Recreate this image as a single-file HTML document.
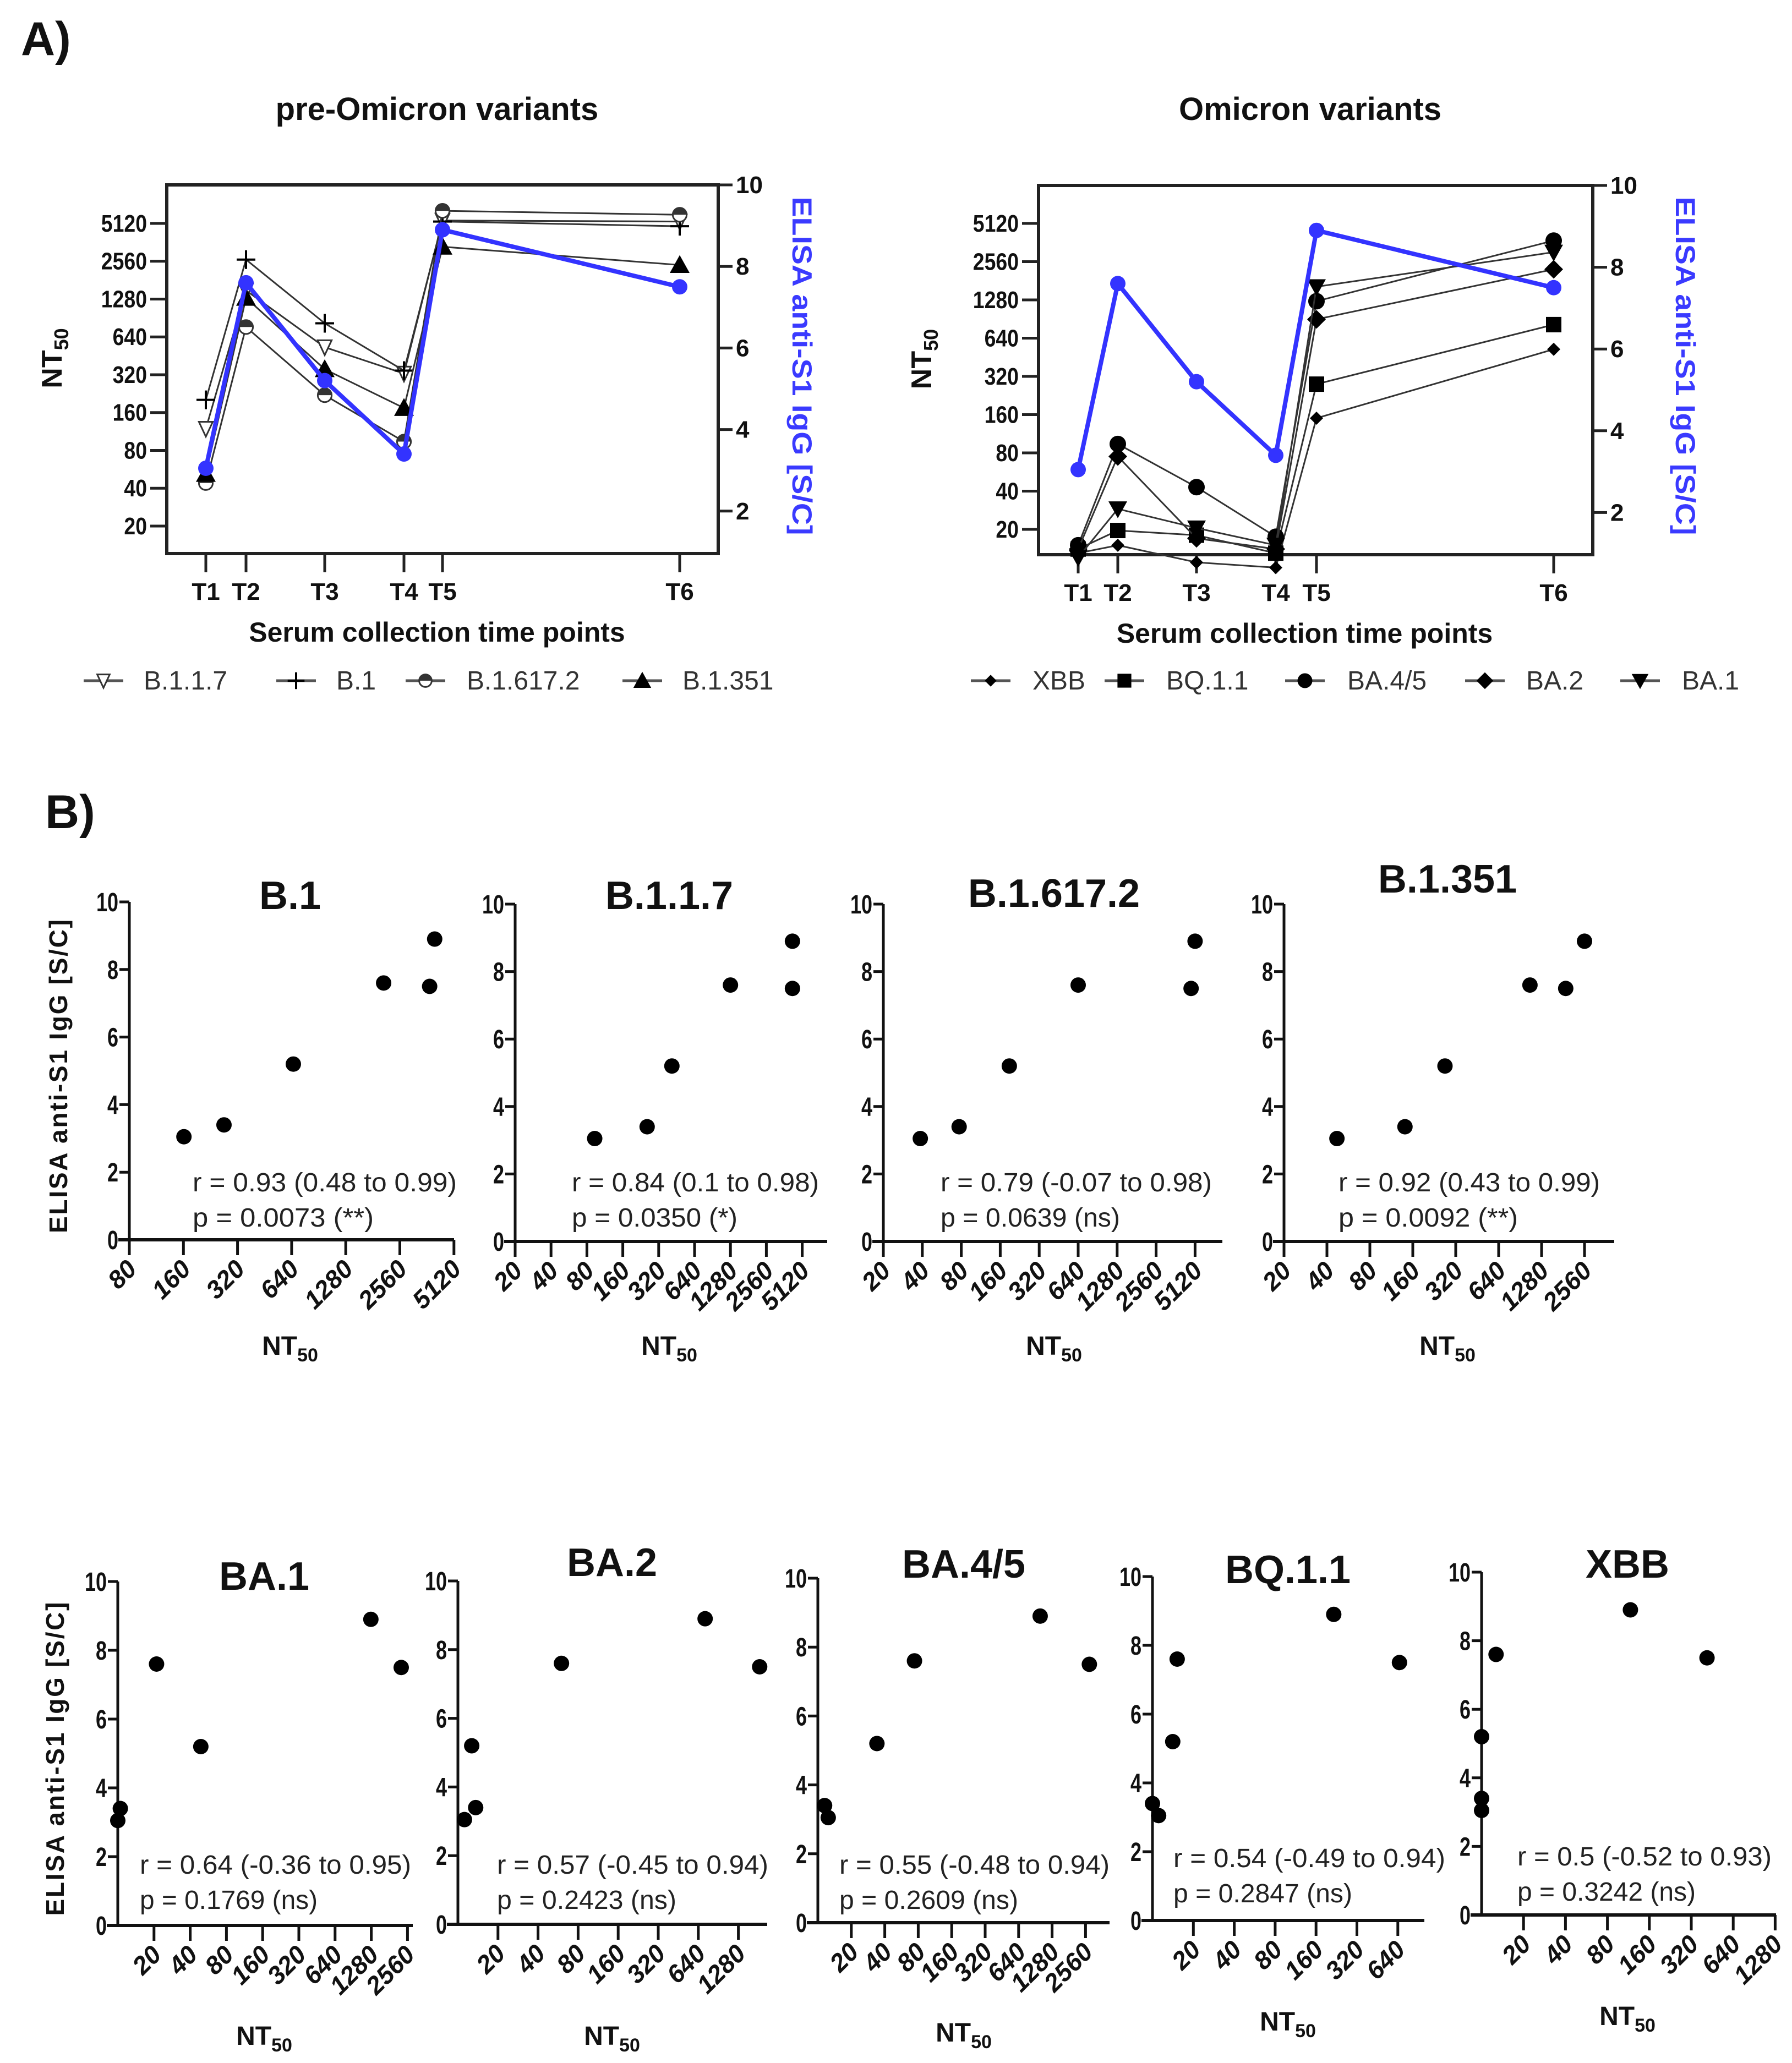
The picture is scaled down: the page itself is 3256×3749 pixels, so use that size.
<!DOCTYPE html>
<html><head><meta charset="utf-8"><style>
html,body{margin:0;padding:0;background:#fff;}
svg{display:block;font-family:"Liberation Sans",Arial,sans-serif;}
</style></head><body>
<svg id="fig" width="3256" height="3749" viewBox="0 0 3256 3749" xmlns="http://www.w3.org/2000/svg"></svg>
<script>
// ---------- DATA ----------
var timePoints = ["T1","T2","T3","T4","T5","T6"];
var elisaValues = [3.05, 7.6, 5.2, 3.4, 8.9, 7.5];
var nt50Ticks = [20,40,80,160,320,640,1280,2560,5120];
var elisaTicks = [2,4,6,8,10];
var preNames = ["B.1.1.7","B.1","B.1.617.2","B.1.351"];
var preB117 = [119,1500,530,327,5400,5300];
var preB1 = [202,2640,821,345,5300,4860];
var preB16172 = [44,767,220,94,6450,6000];
var preB1351 = [52,1310,354,174,3340,2390];
var omiNames = ["XBB","BQ.1.1","BA.4/5","BA.2","BA.1"];
var omiXBB = [13,15,11,10,150,523];
var omiBQ11 = [14,19.6,18,13,278,818];
var omiBA45 = [15,94,43,17.5,1250,3750];
var omiBA2 = [14,75,17,14,900,2230];
var omiBA1 = [12,29,20.5,15,1625,3040];
// scatter NT50 (T1..T6 order, paired with elisaValues)
var scB1 = [161,2080,654,269,4000,3750];
var scB117 = [93,1280,413,256,4240,4240];
var scB16172 = [38.6,640,188,77,5120,4770];
var scB1351 = [47,1061,269,141,2560,1890];
var scBA1 = [10,21,49,10.5,1270,2270];
var scBA2 = [11.2,60,12.7,13.6,720,1850];
var scBA45 = [12.4,74,34,11.5,1000,2770];
var scBQ11 = [11.1,15.2,14.1,10,216,658];
var scXBB = [10,12.7,10,10,117,415];
var scTicksB1 = [80,160,320,640,1280,2560,5120];
var scTicks5120 = [20,40,80,160,320,640,1280,2560,5120];
var scTicks2560 = [20,40,80,160,320,640,1280,2560];
var scTicks1280 = [20,40,80,160,320,640,1280];
var scTicks640 = [20,40,80,160,320,640];
var scYTicks = [0,2,4,6,8,10];
var statsR = ["r = 0.93 (0.48 to 0.99)","r = 0.84 (0.1 to 0.98)","r = 0.79 (-0.07 to 0.98)","r = 0.92 (0.43 to 0.99)","r = 0.64 (-0.36 to 0.95)","r = 0.57 (-0.45 to 0.94)","r = 0.55 (-0.48 to 0.94)","r = 0.54 (-0.49 to 0.94)","r = 0.5 (-0.52 to 0.93)"];
var statsP = ["p = 0.0073 (**)","p = 0.0350 (*)","p = 0.0639 (ns)","p = 0.0092 (**)","p = 0.1769 (ns)","p = 0.2423 (ns)","p = 0.2609 (ns)","p = 0.2847 (ns)","p = 0.3242 (ns)"];

// ---------- HELPERS ----------
var NS = "http://www.w3.org/2000/svg";
var svg = document.getElementById("fig");
function mk(tag, attrs, parent) {
  var e = document.createElementNS(NS, tag);
  for (var k in attrs) e.setAttribute(k, attrs[k]);
  (parent || svg).appendChild(e);
  return e;
}
function txt(s, attrs, parent) { var t = mk("text", attrs, parent); t.textContent = s; return t; }
function log2(v){ return Math.log(v)/Math.LN2; }

function marker(g, type, x, y, s) {
  var e;
  if (type === "tri-up") e = mk("polygon",{points:(x)+","+(y-s)+" "+(x-s)+","+(y+s*0.8)+" "+(x+s)+","+(y+s*0.8),fill:"#000"},g);
  else if (type === "tri-down") e = mk("polygon",{points:(x-s)+","+(y-s*0.8)+" "+(x+s)+","+(y-s*0.8)+" "+x+","+(y+s),fill:"#000"},g);
  else if (type === "tri-down-open") e = mk("polygon",{points:(x-s*0.7)+","+(y-s*0.7)+" "+(x+s*0.7)+","+(y-s*0.7)+" "+x+","+(y+s*0.8),fill:"#fff",stroke:"#333","stroke-width":3},g);
  else if (type === "plus") e = mk("path",{d:"M"+(x-s)+" "+y+"H"+(x+s)+"M"+x+" "+(y-s)+"V"+(y+s),stroke:"#000","stroke-width":4},g);
  else if (type === "circle-open") { e = mk("circle",{cx:x,cy:y,r:s*0.7,fill:"#fff",stroke:"#333","stroke-width":3},g); mk("path",{d:"M"+(x-s*0.7)+" "+y+"A"+s*0.7+" "+s*0.7+" 0 0 1 "+(x+s*0.7)+" "+y+"Z",fill:"#333"},g); }
  else if (type === "circle") e = mk("circle",{cx:x,cy:y,r:s,fill:"#000"},g);
  else if (type === "square") e = mk("rect",{x:x-s,y:y-s,width:2*s,height:2*s,fill:"#000"},g);
  else if (type === "diamond") e = mk("polygon",{points:x+","+(y-s)+" "+(x+s)+","+y+" "+x+","+(y+s)+" "+(x-s)+","+y,fill:"#000"},g);
  return e;
}

// ---------- PANEL LABELS ----------
var la = txt("A)",{x:38,y:100,"font-size":86,"font-weight":"bold",fill:"#111"});


var lb = txt("B)",{x:82,y:1505,"font-size":86,"font-weight":"bold",fill:"#111"});



// ---------- TIME COURSE CHARTS ----------
function timeChart(cfg) {
  var g = mk("g",{});
  
  
  var L=cfg.left,R=cfg.right,T=cfg.top,B=cfg.bottom;
  function yN(v){ return cfg.y5120 - log2(v/5120)*cfg.perDbl; }
  function yE(v){ return T + (10-v)*cfg.perUnit; }
  var tt = txt(cfg.title,{x:(L+R)/2+cfg.titleDx,y:218,"font-size":58,"font-weight":"bold","text-anchor":"middle",fill:"#111"},g);
  
  
  var fr = mk("rect",{x:L,y:T,width:R-L,height:B-T,fill:"none",stroke:"#222","stroke-width":6},g);
  
  
  nt50Ticks.forEach(function(v){
    var y=yN(v);
    var tk = mk("line",{x1:L-30,x2:L,y1:y,y2:y,stroke:"#222","stroke-width":5},g);
    
    
    var tl = txt(String(v),{x:L-36,y:y+15,"font-size":44,"font-weight":"bold","text-anchor":"end",fill:"#111",transform:"translate("+(L-36)+",0) scale(0.85,1) translate("+(-(L-36))+",0)"},g);
    
    
  });
  elisaTicks.forEach(function(v){
    var y=yE(v);
    var tk = mk("line",{x1:R,x2:R+26,y1:y,y2:y,stroke:"#222","stroke-width":5},g);
    
    
    var tl = txt(String(v),{x:R+32,y:y+15,"font-size":44,"font-weight":"bold",fill:"#111"},g);
    
    
  });
  timePoints.forEach(function(t,i){
    var x=cfg.xs[i];
    var tk = mk("line",{x1:x,x2:x,y1:B,y2:B+34,stroke:"#222","stroke-width":5},g);
    
    
    var tl = txt(t,{x:x,y:B+84,"font-size":44,"font-weight":"bold","text-anchor":"middle",fill:"#111"},g);
    
    
  });
  var xt = txt("Serum collection time points",{x:(L+R)/2+cfg.xtDx,y:B+160,"font-size":50,"font-weight":"bold","text-anchor":"middle",fill:"#111"},g);
  
  
  var yt = txt("",{x:0,y:0,"font-size":52,"font-weight":"bold","text-anchor":"middle",fill:"#111",transform:"translate("+cfg.ytX+","+((T+B)/2-20)+") rotate(-90)"},g);
  yt.innerHTML = 'NT<tspan font-size="36" dy="12">50</tspan>';
  
  
  var ry = txt("ELISA anti-S1 IgG [S/C]",{x:0,y:0,"font-size":50,"font-weight":"bold","text-anchor":"middle",fill:"#3a3aff",textLength:615,lengthAdjust:"spacingAndGlyphs",transform:"translate("+cfg.ryX+",665) rotate(90)"},g);
  
  
  cfg.series.forEach(function(s){
    var sg = mk("g",{},g);
    
    
    var pts = s.vals.map(function(v,i){return cfg.xs[i]+","+yN(v);}).join(" ");
    var pl = mk("polyline",{points:pts,fill:"none",stroke:"#333","stroke-width":3},sg);
    
    
    s.vals.forEach(function(v,i){
      var m = marker(sg,s.type,cfg.xs[i],yN(v),s.size);
      
      
    });
  });
  var bg = mk("g",{},g);
  
  
  var bp = mk("polyline",{points:elisaValues.map(function(v,i){return cfg.xs[i]+","+yE(v);}).join(" "),fill:"none",stroke:"#3333ff","stroke-width":8,"stroke-linejoin":"round"},bg);
  
  
  elisaValues.forEach(function(v,i){
    var c = mk("circle",{cx:cfg.xs[i],cy:yE(v),r:14,fill:"#3333ff"},bg);
    
    
  });
  var lg = mk("g",{},g);
  
  
  cfg.series.forEach(function(s,i){
    var e = mk("g",{},lg);
    
    
    var sx=cfg.legSym[s.legIdx];
    mk("line",{x1:sx-36,x2:sx+36,y1:1237,y2:1237,stroke:"#555","stroke-width":5},e);
    marker(e,s.type,sx,1237,s.size*0.9);
    txt(s.name,{x:cfg.legTxt[s.legIdx],y:1253,"font-size":48,fill:"#333"},e);
  });
}

timeChart({name:"pre-omicron-chart",title:"pre-Omicron variants",titleDx:-10,xtDx:-10,left:303,right:1305,top:336,bottom:1006,y5120:406,perDbl:68.75,perUnit:74.1,
  xs:[374,447,590,734,804,1235],ytX:112,ryX:1440,
  legSym:[188,538,773,1167],legTxt:[261,611,848,1240],
  series:[
    {name:"B.1.1.7",vals:preB117,type:"tri-down-open",size:18,legIdx:0},
    {name:"B.1",vals:preB1,type:"plus",size:17,legIdx:1},
    {name:"B.1.617.2",vals:preB16172,type:"circle-open",size:18,legIdx:2},
    {name:"B.1.351",vals:preB1351,type:"tri-up",size:18,legIdx:3}
  ]});
timeChart({name:"omicron-chart",title:"Omicron variants",titleDx:-10,xtDx:-20,left:1887,right:2894,top:337,bottom:1008,y5120:406,perDbl:69.5,perUnit:74.3,
  xs:[1959,2031,2174,2318,2392,2823],ytX:1692,ryX:3045,
  legSym:[1800,2043,2371,2698,2980],legTxt:[1876,2119,2448,2773,3056],
  series:[
    {name:"XBB",vals:omiXBB,type:"diamond",size:12,legIdx:0},
    {name:"BQ.1.1",vals:omiBQ11,type:"square",size:14,legIdx:1},
    {name:"BA.4/5",vals:omiBA45,type:"circle",size:15,legIdx:2},
    {name:"BA.2",vals:omiBA2,type:"diamond",size:17,legIdx:3},
    {name:"BA.1",vals:omiBA1,type:"tri-down",size:17,legIdx:4}
  ]});

// ---------- SCATTER PANELS ----------
function scatter(cfg) {
  var g = mk("g",{});
  
  
  var A=cfg.axisX,T=cfg.top,B=cfg.bottom,E=cfg.end;
  function xS(v){ return A + log2(v/cfg.vmin)*cfg.per; }
  function yS(v){ return B - v*(B-T)/10; }
  var tt = txt(cfg.title,{x:cfg.titleX,y:cfg.titleY,"font-size":72,"font-weight":"bold","text-anchor":"middle",fill:"#111"},g);
  
  
  var ya = mk("line",{x1:A,x2:A,y1:T,y2:B,stroke:"#111","stroke-width":5},g);
  
  
  var xa = mk("line",{x1:A-20,x2:E,y1:B,y2:B,stroke:"#111","stroke-width":6},g);
  
  
  scYTicks.forEach(function(v){
    var y=yS(v);
    var tk = mk("line",{x1:A-18,x2:A,y1:y,y2:y,stroke:"#111","stroke-width":5},g);
    
    
    var tl = txt(String(v),{x:A-20,y:y+17,"font-size":48,"font-weight":"bold","text-anchor":"end",fill:"#111",transform:"translate("+(A-20)+",0) scale(0.75,1) translate("+(-(A-20))+",0)"},g);
    
    
  });
  cfg.ticks.forEach(function(v){
    var x=xS(v);
    var tk = mk("line",{x1:x,x2:x,y1:B,y2:B+28,stroke:"#111","stroke-width":5},g);
    
    
    var tl = txt(String(v),{x:0,y:0,"font-size":46,"font-weight":"bold","font-style":"italic","text-anchor":"end",fill:"#111",transform:"translate("+(x+16)+","+(B+56)+") rotate(-45)"},g);
    
    
  });
  var xt = txt("",{x:cfg.titleX,y:cfg.ntY,"font-size":48,"font-weight":"bold","text-anchor":"middle",fill:"#111"},g);
  xt.innerHTML = 'NT<tspan font-size="34" dy="12">50</tspan>';
  
  
  if (cfg.ylab) {
    var yt = txt("ELISA anti-S1 IgG [S/C]",{x:0,y:0,"font-size":46,"font-weight":"bold","text-anchor":"middle",fill:"#111",textLength:570,transform:"translate("+cfg.ylab+","+((T+B)/2+10)+") rotate(-90)"},g);
    
    
  }
  cfg.vals.forEach(function(v,i){
    var c = mk("circle",{cx:xS(v),cy:yS(elisaValues[i]),r:14,fill:"#000"},g);
    
    
  });
  var r = txt(statsR[cfg.idx],{x:cfg.rx,y:cfg.ry,"font-size":48,fill:"#222",textLength:cfg.rw,lengthAdjust:"spacingAndGlyphs"},g);
  
  
  var p = txt(statsP[cfg.idx],{x:cfg.rx,y:cfg.ry+64,"font-size":48,fill:"#222",textLength:cfg.pw,lengthAdjust:"spacingAndGlyphs"},g);
  
  
}

scatter({name:"scatter-b1",idx:0,title:"B.1",titleX:527,titleY:1652,axisX:235,top:1639,bottom:2253,end:825,vmin:80,per:98.3,ticks:scTicksB1,vals:scB1,ntY:2462,ylab:122,rx:350,ry:2165,rw:480,pw:329});
scatter({name:"scatter-b117",idx:1,title:"B.1.1.7",titleX:1216,titleY:1652,axisX:936,top:1643,bottom:2256,end:1503,vmin:20,per:65.2,ticks:scTicks5120,vals:scB117,ntY:2462,rx:1039,ry:2165,rw:449,pw:301});
scatter({name:"scatter-b16172",idx:2,title:"B.1.617.2",titleX:1915,titleY:1648,axisX:1605,top:1643,bottom:2256,end:2221,vmin:20,per:70.8,ticks:scTicks5120,vals:scB16172,ntY:2462,rx:1709,ry:2165,rw:493,pw:326});
scatter({name:"scatter-b1351",idx:3,title:"B.1.351",titleX:2630,titleY:1622,axisX:2333,top:1643,bottom:2256,end:2933,vmin:20,per:78,ticks:scTicks2560,vals:scB1351,ntY:2462,rx:2432,ry:2165,rw:475,pw:326});
scatter({name:"scatter-ba1",idx:4,title:"BA.1",titleX:480,titleY:2889,axisX:214,top:2874,bottom:3499,end:750,vmin:10,per:65.8,ticks:scTicks2560,vals:scBA1,ntY:3716,ylab:116,rx:254,ry:3405,rw:493,pw:323});
scatter({name:"scatter-ba2",idx:5,title:"BA.2",titleX:1112,titleY:2864,axisX:832,top:2873,bottom:3497,end:1394,vmin:10,per:72.8,ticks:scTicks1280,vals:scBA2,ntY:3716,rx:903,ry:3405,rw:493,pw:326});
scatter({name:"scatter-ba45",idx:6,title:"BA.4/5",titleX:1751,titleY:2867,axisX:1486,top:2868,bottom:3494,end:2016,vmin:10,per:60.8,ticks:scTicks2560,vals:scBA45,ntY:3710,rx:1525,ry:3405,rw:491,pw:325});
scatter({name:"scatter-bq11",idx:7,title:"BQ.1.1",titleX:2340,titleY:2877,axisX:2094,top:2865,bottom:3490,end:2588,vmin:10,per:74.3,ticks:scTicks640,vals:scBQ11,ntY:3690,rx:2132,ry:3393,rw:494,pw:325});
scatter({name:"scatter-xbb",idx:8,title:"XBB",titleX:2957,titleY:2867,axisX:2692,top:2857,bottom:3480,end:3227,vmin:10,per:76.2,ticks:scTicks1280,vals:scXBB,ntY:3680,rx:2757,ry:3390,rw:462,pw:324});
</script>
</body></html>
